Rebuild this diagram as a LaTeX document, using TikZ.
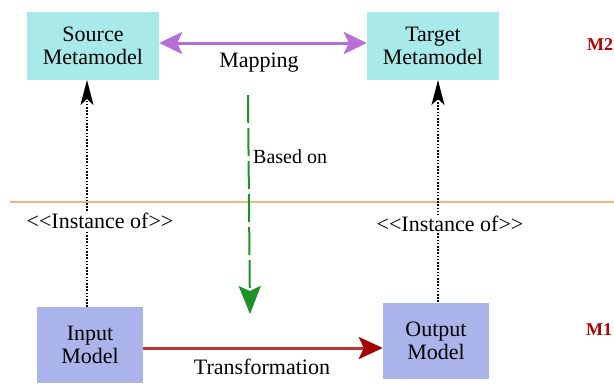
\documentclass[tikz,border=0pt]{standalone}
\usepackage{fontspec}
\setmainfont{Liberation Serif}
\usetikzlibrary{arrows.meta}
\definecolor{metafill}{RGB}{168,234,234}
\definecolor{modelfill}{RGB}{170,180,235}
\definecolor{mapcol}{RGB}{185,110,215}
\definecolor{basedcol}{RGB}{30,145,40}
\definecolor{transcol}{RGB}{185,55,55}
\definecolor{transhead}{RGB}{165,0,0}
\definecolor{levelcol}{RGB}{240,185,115}
\definecolor{mlabel}{RGB}{180,0,0}
\begin{document}
\begin{tikzpicture}[x=1pt,y=-1pt,
  every node/.style={font=\rmfamily\fontsize{22}{23}\selectfont, inner sep=0pt},
  metabox/.style={fill=metafill, minimum width=132pt, minimum height=68pt, align=center},
  modelbox/.style={fill=modelfill, minimum width=106pt, minimum height=76pt, align=center},
  instarrow/.style={line width=1.8pt, dash pattern=on 1.6pt off 1.6pt, -{Stealth[length=25pt,width=13pt,inset=6pt]}},
  lbl/.style={fill=white, inner sep=1pt},
  levellbl/.style={text=mlabel, font=\rmfamily\bfseries\fontsize{18}{20}\selectfont, anchor=west}
]
\useasboundingbox (0,0) rectangle (614,384);
\fill[white] (0,0) rectangle (614,384);

% level separator
\draw[levelcol, line width=2pt] (10,202) -- (614,202);

% boxes
\node[metabox] (src) at (93,45.5) {Source\\Metamodel};
\node[metabox] (tgt) at (433,46) {Target\\Metamodel};
\node[modelbox] (in) at (90,345) {Input\\Model};
\node[modelbox] (out) at (436,340.5) {Output\\Model};

% mapping
\draw[mapcol, line width=3pt, {Stealth[length=23pt,width=22pt,inset=5pt]}-{Stealth[length=23pt,width=22pt,inset=5pt]}] (src.east |- 0,43) -- (tgt.west |- 0,43);
\node (map) at (259,63) {Mapping};

% instance-of arrows
\coordinate (inTop) at (87,307);
\coordinate (srcBot) at (87,80);
\draw[instarrow] (inTop) -- (srcBot);
\coordinate (outTop) at (438,302);
\coordinate (tgtBot) at (438,80);
\draw[instarrow] (outTop) -- (tgtBot);
\node[lbl] (inst1) at (100,221) {<{}<Instance of>{}>};
\node[lbl] (inst2) at (450,224) {<{}<Instance of>{}>};

% based on
\coordinate (bStart) at (248,95);
\coordinate (bEnd) at (250,314);
\draw[basedcol, line width=2pt, dash pattern=on 28pt off 5pt, -{Stealth[length=28pt,width=22pt,inset=5pt]}] (bStart) -- (bEnd);
\node[anchor=west] (based) at (253,157) {\fontsize{20}{22}\selectfont Based on};

% transformation
\draw[transcol, line width=3pt, -{Stealth[length=24pt,width=22pt,inset=5pt,color=transhead]}] (in.east |- 0,348) -- (out.west |- 0,348);
\node (trans) at (262,367) {Transformation};

% level labels
\node[levellbl] (m2) at (587,45) {M2};
\node[levellbl] (m1) at (586,330) {M1};
\end{tikzpicture}
\end{document}
